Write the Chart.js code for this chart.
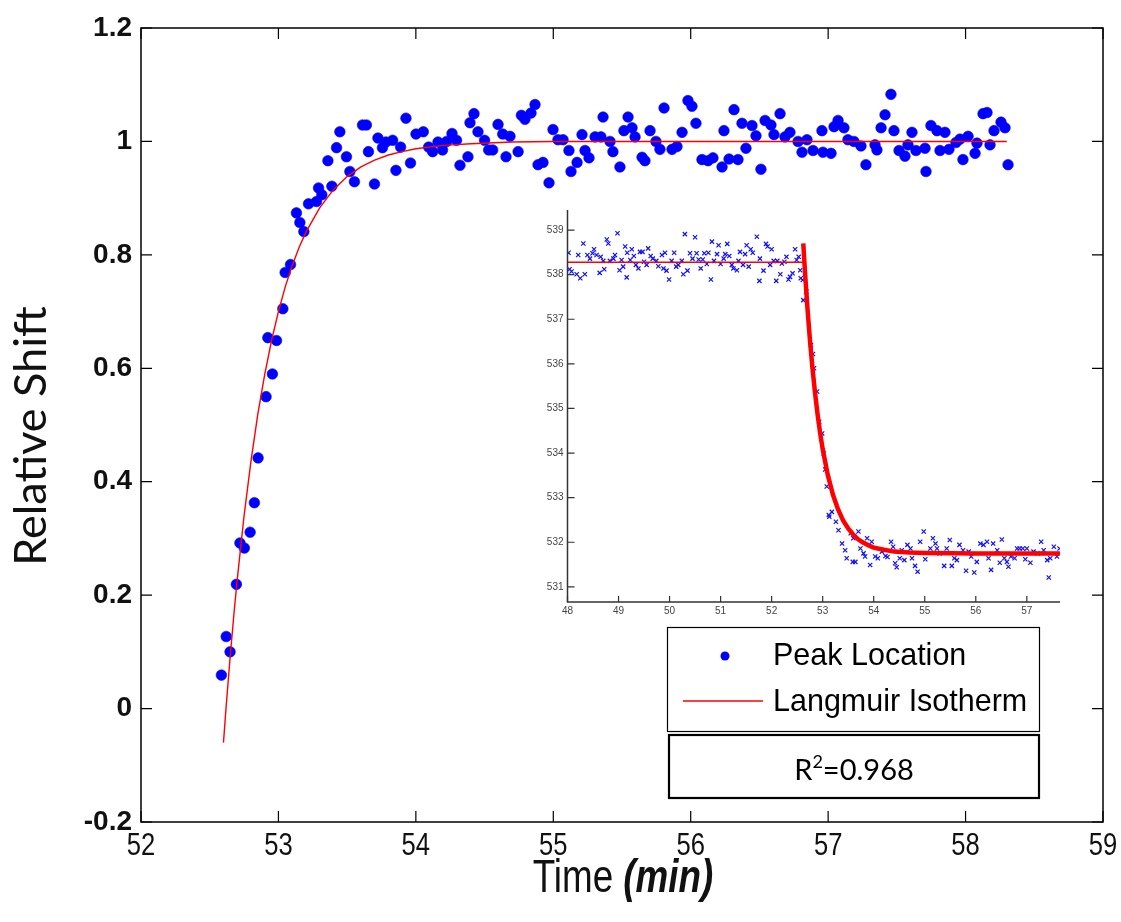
<!DOCTYPE html>
<html><head><meta charset="utf-8">
<script src="https://cdn.jsdelivr.net/npm/chart.js@4.4.0/dist/chart.umd.min.js"></script>
<style>
html,body{margin:0;padding:0;background:#fff;}
#wrap{position:relative;width:1121px;height:922px;overflow:hidden;}
#main{position:absolute;left:0;top:0;}
#inset{position:absolute;left:520px;top:198px;}
</style></head><body>
<div id="wrap">
<canvas id="main" width="1121" height="922"></canvas>
<canvas id="inset" width="545" height="427"></canvas>
</div>
<script>
// ---------- main plot data ----------
const peakTime = [52.585,52.620,52.648,52.694,52.720,52.752,52.794,52.825,52.852,52.910,52.923,52.956,52.986,53.032,53.049,53.088,53.131,53.156,53.185,53.219,53.277,53.292,53.316,53.360,53.389,53.423,53.447,53.495,53.520,53.553,53.612,53.640,53.655,53.699,53.724,53.757,53.782,53.831,53.855,53.889,53.928,53.961,54.001,54.054,54.093,54.122,54.161,54.194,54.224,54.263,54.296,54.321,54.379,54.394,54.423,54.452,54.500,54.530,54.559,54.598,54.632,54.656,54.685,54.744,54.768,
54.794,54.838,54.867,54.889,54.925,54.969,54.998,55.034,55.071,55.114,55.129,55.173,55.209,55.231,55.260,55.304,55.347,55.362,55.413,55.434,55.485,55.514,55.544,55.573,55.595,55.646,55.667,55.704,55.747,55.776,55.806,55.864,55.900,55.937,55.980,56.009,56.038,56.082,56.126,56.162,56.228,56.242,56.279,56.315,56.344,56.373,56.402,56.446,56.475,56.511,56.541,56.584,56.606,56.650,56.686,56.722,56.781,56.810,56.846,56.890,56.955,56.962,57.021,57.043,57.072,57.115,57.144,57.188,57.239,57.275,57.341,57.355,57.385,57.414,57.457,57.479,57.516,57.559,57.581,57.610,57.639,57.705,57.712,57.748,57.792,57.814,57.850,57.879,57.930,57.959,57.981,58.018,58.069,58.083,58.127,58.156,58.178,58.207,58.258,58.287,58.309];
const peakShift = [0.059,0.127,0.100,0.219,0.292,0.283,0.311,0.363,0.442,0.550,0.654,0.590,0.649,0.705,0.769,0.783,0.874,0.857,0.841,0.890,0.894,0.918,0.906,0.966,0.921,0.989,1.017,0.973,0.947,0.929,1.029,1.029,0.982,0.925,1.006,0.989,0.999,1.002,0.949,0.990,1.041,0.962,1.013,1.017,0.990,0.982,0.999,0.985,1.000,1.014,1.002,0.958,0.973,1.033,1.049,1.017,1.002,0.985,0.985,1.030,1.013,0.973,1.009,0.982,1.046,
1.039,1.050,1.065,0.959,0.963,0.927,1.021,1.003,1.003,0.984,0.947,0.963,1.012,0.984,0.971,1.008,1.008,1.043,1.000,0.982,0.955,1.019,1.043,1.024,1.008,0.972,0.966,1.019,1.000,0.986,1.059,0.986,0.991,1.016,1.072,1.062,1.032,0.968,0.966,0.971,0.955,1.019,0.969,1.056,0.968,1.032,0.988,1.028,1.010,0.951,1.037,1.029,1.012,1.049,1.008,1.016,1.000,0.981,1.003,0.984,1.019,0.981,0.979,1.026,1.037,1.024,1.003,1.000,0.992,0.959,0.994,0.985,1.024,1.047,1.083,1.019,0.984,0.974,0.994,1.016,0.984,0.988,0.947,1.028,1.019,0.984,1.016,0.986,0.998,1.004,0.968,1.009,0.979,0.997,1.049,1.051,0.994,1.019,1.034,1.024,0.959];
const fitTime  = [52.60,52.62,52.65,52.68,52.70,52.75,52.80,52.85,52.90,52.95,53.00,53.05,53.10,53.15,53.20,53.30,53.40,53.50,53.60,53.70,53.80,53.90,54.00,54.20,54.40,54.70,55.00,55.50,56.00,57.00,58.30];
const fitShift = [-0.060,0.005,0.095,0.177,0.227,0.340,0.436,0.519,0.589,0.649,0.700,0.744,0.781,0.813,0.840,0.883,0.915,0.938,0.955,0.967,0.976,0.982,0.987,0.993,0.996,0.999,1.000,1.000,1.000,1.000,1.000];
const mainXTicks = [52,53,54,55,56,57,58,59];
const mainYTicks = [-0.2,0,0.2,0.4,0.6,0.8,1,1.2];
const mainYTickLabels = ['-0.2','0','0.2','0.4','0.6','0.8','1','1.2'];
const legendLabels = ['Peak Location','Langmuir Isotherm'];
const rSquared = '0.968';
const xTitleMain = 'Time ';
const xTitleUnit = '(min)';
const yTitle = 'Relative Shift';

// ---------- inset data ----------
const insetTime = [48.02,48.04,48.08,48.18,48.25,48.21,48.31,48.34,48.39,48.44,48.49,48.52,48.57,48.63,48.65,48.70,48.72,48.77,48.80,48.83,48.90,48.93,48.98,49.02,49.06,49.09,49.13,49.16,49.17,49.23,49.26,49.30,49.34,49.39,49.42,49.47,49.50,49.55,49.58,49.63,49.67,49.74,49.78,49.85,49.88,49.91,49.94,49.99,50.04,50.09,50.13,50.17,50.24,50.27,50.30,50.35,50.40,50.45,50.50,50.53,50.57,50.61,50.65,50.68,50.73,50.76,50.81,50.83,50.87,50.93,50.96,51.00,51.06,51.09,51.13,51.17,51.22,51.25,51.32,51.35,51.38,51.44,51.48,51.51,51.55,51.59,51.63,51.71,51.76,51.77,51.84,51.89,51.92,51.97,52.00,52.04,52.09,52.11,52.17,52.20,52.25,52.29,52.33,52.36,52.41,52.46,52.49,52.53,52.56,52.57,
52.61,52.62,52.68,52.77,52.81,52.83,52.89,52.93,52.99,53.02,53.05,53.08,53.12,
53.13,53.18,53.26,53.31,53.38,53.44,53.47,53.55,53.59,53.64,53.60,53.70,53.74,53.80,53.83,53.87,53.93,53.96,54.03,54.08,54.16,54.23,54.27,54.34,54.38,54.42,54.45,54.51,54.55,54.60,54.66,54.72,54.75,54.81,54.86,54.91,54.98,55.01,55.11,55.16,55.21,55.24,55.29,55.38,55.43,55.49,55.53,55.58,55.63,55.68,55.75,55.81,55.86,55.91,55.97,56.02,56.09,56.15,56.22,56.25,56.30,56.34,56.42,56.47,56.51,56.56,56.61,56.64,56.69,56.76,56.81,56.86,56.92,56.97,57.00,57.07,57.13,57.21,57.28,57.33,57.40,57.43,57.46,57.53,57.59,57.64];
const insetPeak = [538.49,538.12,538.07,538.01,537.92,538.44,538.70,538.01,538.44,538.36,538.48,538.57,538.44,538.04,538.40,538.31,538.12,538.79,538.70,538.31,538.36,538.44,538.93,538.10,538.33,538.18,538.63,537.94,538.49,538.33,538.57,538.42,538.22,538.14,538.51,538.51,538.29,538.22,538.59,538.42,538.36,538.31,538.19,538.44,538.14,538.49,538.09,537.89,538.31,538.49,538.18,538.22,538.31,538.01,538.91,538.09,538.48,538.36,538.84,538.48,538.34,538.14,538.34,538.48,538.24,538.49,537.89,538.74,538.31,538.46,538.66,538.24,538.36,538.46,538.69,538.42,538.22,538.14,538.10,538.31,538.51,538.22,538.46,538.66,538.18,538.57,538.49,538.85,537.86,538.36,538.09,538.69,538.63,538.22,538.57,538.31,537.86,538.31,538.01,538.25,538.29,538.40,537.89,537.95,538.03,538.57,538.33,538.40,538.10,537.92,
537.88,537.43,537.62,536.42,536.22,535.90,535.38,534.70,534.44,533.99,533.63,533.25,532.61,
532.57,532.68,532.46,532.27,531.97,531.82,531.64,532.20,531.56,531.56,532.09,532.24,531.86,531.75,531.68,532.09,531.49,532.01,531.68,531.64,531.79,531.69,531.67,532.01,531.90,531.53,531.44,531.64,531.82,531.60,531.94,531.86,531.64,531.47,531.34,532.01,532.24,531.62,531.86,532.09,531.97,531.86,531.75,531.47,531.86,532.05,531.47,531.64,531.60,531.94,531.82,531.36,531.79,531.68,531.32,531.56,531.97,531.94,532.01,531.64,531.38,531.97,531.82,531.54,532.06,531.64,531.56,531.45,531.68,531.64,531.86,531.86,531.86,531.62,531.86,531.54,531.79,531.75,532.01,531.82,531.60,531.21,531.64,531.90,531.68,531.86];
const insetBaseTime  = [48.00,52.62];
const insetBaseValue = [538.28,538.28];
const insetFitTime  = [52.62,52.65,52.70,52.75,52.80,52.85,52.90,52.95,53.00,53.10,53.20,53.30,53.40,53.50,53.60,53.70,53.80,53.90,54.00,54.20,54.40,54.70,55.00,56.00,57.65];
const insetFitValue = [538.70,538.12,537.27,536.54,535.90,535.35,534.87,534.45,534.09,533.51,533.07,532.74,532.49,532.31,532.17,532.06,531.99,531.93,531.88,531.83,531.79,531.77,531.76,531.75,531.75];
const insetXTicks = [48,49,50,51,52,53,54,55,56,57];
const insetYTicks = [531,532,533,534,535,536,537,538,539];

// ---------- helpers ----------
const zip = (xs, ys) => xs.map((x, i) => ({x: x, y: ys[i]}));
const SANS = "'Liberation Sans', Arial, sans-serif";
const NARROW_SCALE = 0.8;

function narrowText(c, text, x, y, font, align) {
  c.save();
  c.font = font;
  const w = c.measureText(text).width * NARROW_SCALE;
  let left = x;
  if (align === 'center') left = x - w / 2;
  else if (align === 'right') left = x - w;
  c.translate(left, y); c.scale(NARROW_SCALE, 1);
  c.textAlign = 'left';
  c.fillText(text, 0, 0);
  c.restore();
  return w;
}

const mainDecor = {
  id: 'mainDecor',
  beforeDraw(chart) {
    const c = chart.ctx; c.save(); c.fillStyle = '#fff'; c.fillRect(0, 0, chart.width, chart.height); c.restore();
  },
  afterDraw(chart) {
    const c = chart.ctx, a = chart.chartArea, xs = chart.scales.x, ys = chart.scales.y;
    c.save();
    // frame
    c.strokeStyle = '#000'; c.lineWidth = 1.5;
    c.strokeRect(a.left, a.top, a.right - a.left, a.bottom - a.top);
    // inward ticks on all sides
    c.beginPath();
    xs.ticks.forEach(t => { const p = xs.getPixelForValue(t.value);
      c.moveTo(p, a.bottom); c.lineTo(p, a.bottom - 11); c.moveTo(p, a.top); c.lineTo(p, a.top + 11); });
    ys.ticks.forEach(t => { const p = ys.getPixelForValue(t.value);
      c.moveTo(a.left, p); c.lineTo(a.left + 11, p); c.moveTo(a.right, p); c.lineTo(a.right - 11, p); });
    c.lineWidth = 1.2; c.stroke();
    // x tick labels (narrow face) at the library's tick positions
    c.fillStyle = '#111'; c.textBaseline = 'alphabetic';
    xs.ticks.forEach((t, i) => {
      narrowText(c, String(mainXTicks[i]), xs.getPixelForValue(t.value), a.bottom + 33, "32px " + SANS, 'center');
    });
    // y title
    c.save(); c.translate(31, 436); c.rotate(-Math.PI / 2);
    c.font = "45px Lato, 'Open Sans', sans-serif"; c.textAlign = 'center'; c.textBaseline = 'middle';
    c.fillText(yTitle, 0, 0); c.restore();
    // x title
    const f1 = "46px " + SANS, f2 = "italic bold 46px " + SANS;
    c.font = f1; const w1 = c.measureText(xTitleMain).width * NARROW_SCALE;
    c.font = f2; const w2 = c.measureText(xTitleUnit).width * NARROW_SCALE;
    const x0 = 623 - (w1 + w2) / 2;
    narrowText(c, xTitleMain, x0, 892, f1, 'left');
    narrowText(c, xTitleUnit, x0 + w1, 892, f2, 'left');
    // legend box
    c.fillStyle = '#fff';
    c.fillRect(667.5, 627.5, 372, 104);
    c.strokeStyle = '#000'; c.lineWidth = 1.2;
    c.strokeRect(667.5, 627.5, 372, 104);
    const ds = chart.data.datasets;
    c.fillStyle = ds[0].pointBackgroundColor;
    c.beginPath(); c.arc(725, 656, 4.5, 0, Math.PI * 2); c.fill();
    c.strokeStyle = ds[1].borderColor; c.lineWidth = 1.3;
    c.beginPath(); c.moveTo(683, 701); c.lineTo(763, 701); c.stroke();
    c.fillStyle = '#000'; c.font = "30.5px " + SANS;
    c.textBaseline = 'middle'; c.textAlign = 'left';
    c.fillText(ds[0].label, 773, 657);
    c.fillText(ds[1].label, 773, 703);
    // R^2 box
    c.fillStyle = '#fff'; c.fillRect(669, 735, 370, 63);
    c.strokeStyle = '#000'; c.lineWidth = 2.2;
    c.strokeRect(669, 735, 370, 63);
    const fa = "29px Lato, 'Open Sans', sans-serif", fb = "18px Lato, 'Open Sans', sans-serif";
    c.font = fa; const wr = c.measureText('R').width, we = c.measureText('=' + rSquared).width;
    c.font = fb; const ws = c.measureText('2').width;
    let rx = 854 - (wr + ws + we) / 2;
    c.fillStyle = '#000'; c.textBaseline = 'alphabetic';
    c.font = fa; c.fillText('R', rx, 780);
    c.font = fb; c.fillText('2', rx + wr, 768);
    c.font = fa; c.fillText('=' + rSquared, rx + wr + ws, 780);
    c.restore();
  }
};

const insetDecor = {
  id: 'insetDecor',
  afterDraw(chart) {
    const c = chart.ctx, a = chart.chartArea, xs = chart.scales.x, ys = chart.scales.y;
    c.save();
    c.strokeStyle = '#333'; c.lineWidth = 1.5;
    c.beginPath();
    c.moveTo(a.left, a.top); c.lineTo(a.left, a.bottom); c.lineTo(a.right, a.bottom);
    c.stroke();
    c.beginPath();
    xs.ticks.forEach(t => { const p = xs.getPixelForValue(t.value); c.moveTo(p, a.bottom); c.lineTo(p, a.bottom - 6); });
    ys.ticks.forEach(t => { const p = ys.getPixelForValue(t.value); c.moveTo(a.left, p); c.lineTo(a.left + 7, p); });
    c.lineWidth = 1.2; c.stroke();
    c.restore();
  }
};

// ---------- main chart ----------
new Chart(document.getElementById('main'), {
  type: 'scatter',
  data: { datasets: [
    { label: legendLabels[0], data: zip(peakTime, peakShift), pointRadius: 5.3, pointHoverRadius: 5.3,
      pointBackgroundColor: '#0000ff', pointBorderColor: '#0000ff', pointBorderWidth: 0.6, showLine: false, order: 2 },
    { label: legendLabels[1], type: 'line', data: zip(fitTime, fitShift), borderColor: '#ff0000', borderWidth: 1.4,
      pointRadius: 0, tension: 0, fill: false, order: 1 }
  ]},
  options: {
    responsive: false, animation: false, devicePixelRatio: 1,
    layout: { padding: { left: 0, right: 18, top: 28, bottom: 0 } },
    plugins: { legend: { display: false }, tooltip: { enabled: false } },
    scales: {
      x: { type: 'linear', min: 52, max: 59,
        afterBuildTicks: s => { s.ticks = mainXTicks.map(v => ({ value: v })); },
        afterFit: s => { s.height = 100; },
        grid: { display: false, drawTicks: false }, border: { display: false },
        ticks: { display: false, autoSkip: false } },
      y: { type: 'linear', min: -0.2, max: 1.2,
        afterBuildTicks: s => { s.ticks = mainYTicks.map(v => ({ value: v })); },
        afterFit: s => { s.width = 141; },
        grid: { display: false, drawTicks: false }, border: { display: false },
        ticks: { font: { family: SANS, size: 28, weight: 'bold' }, color: '#111', padding: 9,
          autoSkip: false, callback: (v, i) => mainYTickLabels[i] } }
    }
  },
  plugins: [mainDecor]
});

// ---------- inset chart ----------
new Chart(document.getElementById('inset'), {
  type: 'scatter',
  data: { datasets: [
    { label: 'data', data: zip(insetTime, insetPeak), pointStyle: 'crossRot', pointRadius: 3, pointHoverRadius: 3,
      borderColor: '#1010ff', pointBorderColor: '#1010ff', pointBorderWidth: 1.2, showLine: false, order: 3 },
    { label: 'base', type: 'line', data: zip(insetBaseTime, insetBaseValue), borderColor: '#ff0000', borderWidth: 1.6,
      pointRadius: 0, tension: 0, fill: false, order: 2 },
    { label: 'fit', type: 'line', data: zip(insetFitTime, insetFitValue), borderColor: '#ff0000', borderWidth: 4.5,
      pointRadius: 0, tension: 0, fill: false, order: 1 }
  ]},
  options: {
    responsive: false, animation: false, devicePixelRatio: 1,
    layout: { padding: { left: 0, right: 5, top: 12, bottom: 0 } },
    plugins: { legend: { display: false }, tooltip: { enabled: false } },
    scales: {
      x: { type: 'linear', min: 48, max: 57.65,
        afterBuildTicks: s => { s.ticks = insetXTicks.map(v => ({ value: v })); },
        afterFit: s => { s.height = 23; },
        grid: { display: false, drawTicks: false }, border: { display: false },
        ticks: { font: { family: SANS, size: 10 }, color: '#444', padding: 3, maxRotation: 0, autoSkip: false,
          callback: (v, i) => String(insetXTicks[i]) } },
      y: { type: 'linear', min: 530.66, max: 539.45,
        afterBuildTicks: s => { s.ticks = insetYTicks.map(v => ({ value: v })); },
        afterFit: s => { s.width = 47.5; },
        grid: { display: false, drawTicks: false }, border: { display: false },
        ticks: { font: { family: SANS, size: 10 }, color: '#444', padding: 4, autoSkip: false,
          callback: (v, i) => String(insetYTicks[i]) } }
    }
  },
  plugins: [insetDecor]
});
</script>
</body></html>
